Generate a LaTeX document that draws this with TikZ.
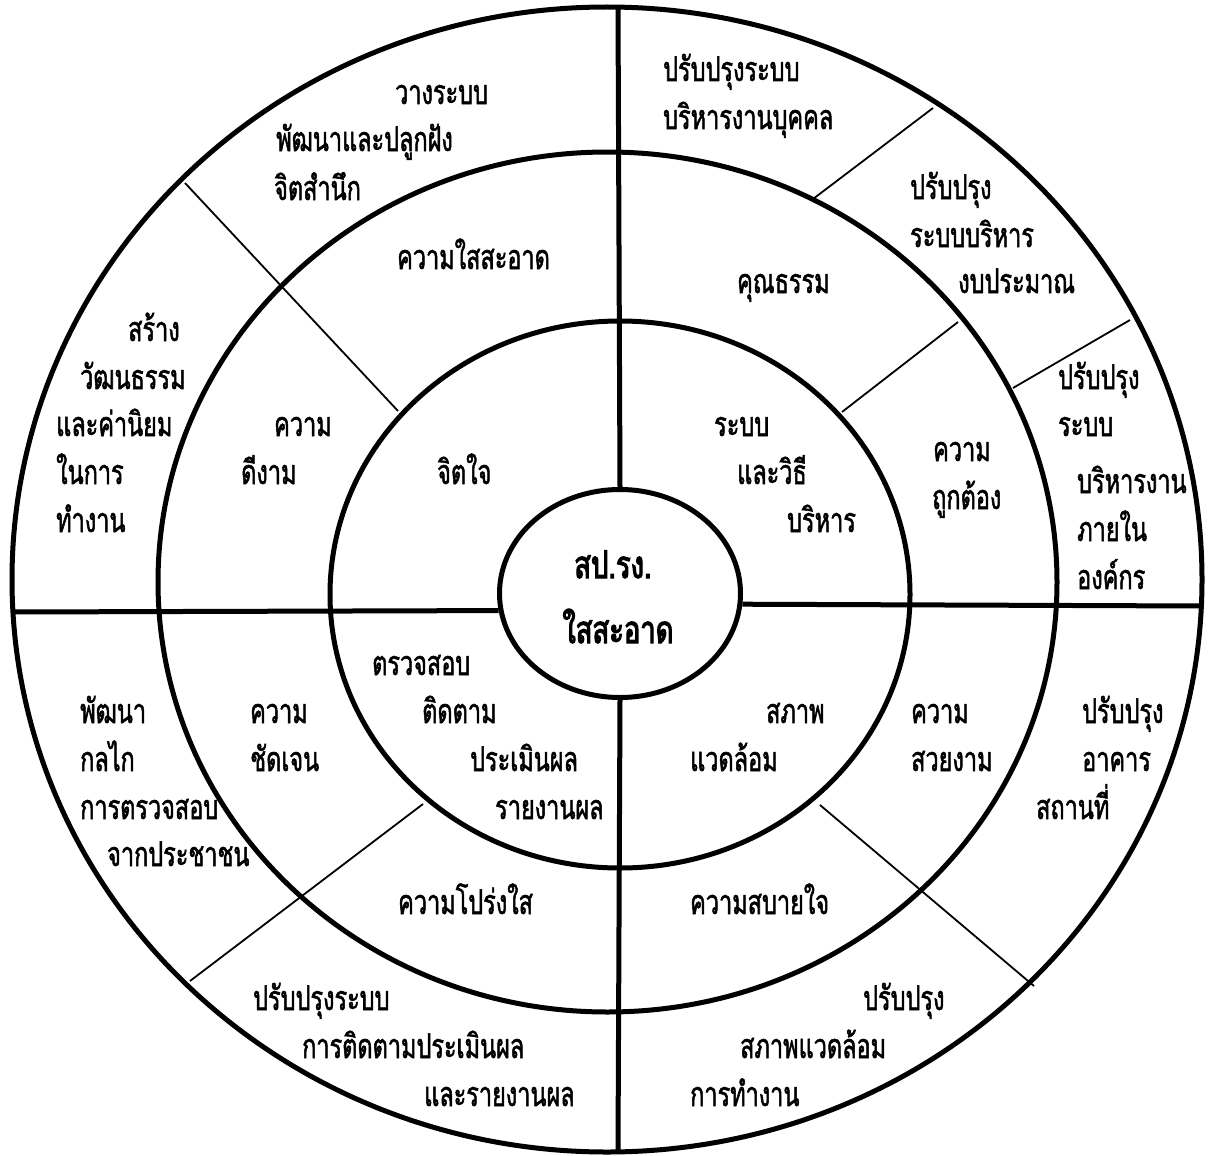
\documentclass[tikz,border=0pt]{standalone}
\usepackage{fontspec}
\newfontfamily\thai[Script=Thai,FakeStretch=0.69,FakeBold=1.5]{Loma}
\newfontfamily\thaihub[Script=Thai,FakeStretch=0.72,FakeBold=3]{Loma}
\usetikzlibrary{shapes.geometric}
\begin{document}
\begin{tikzpicture}[x=1pt,y=-1pt,
  ring/.style={line width=5pt},
  divider/.style={line width=5pt},
  thinline/.style={line width=1.8pt},
  lbl/.style={anchor=base west, inner sep=0pt, font=\thai\fontsize{34}{40}\selectfont},
  hublbl/.style={anchor=base, inner sep=0pt, font=\thaihub\fontsize{38}{44}\selectfont}]
\useasboundingbox (0,0) rectangle (1213,1156);
% rings
\draw[ring] (607,579.5) ellipse (595 and 572.5);
\draw[ring] (607.5,582) ellipse (449.5 and 430);
\draw[ring] (620,594.5) ellipse (290 and 273.5);
\node[draw, ellipse, line width=5pt, minimum width=241, minimum height=208, inner sep=0pt] (hub) at (620,593.5) {};
% free ends on the outer ring
\coordinate (otop) at (618,7);
\coordinate (obot) at (618,1151);
\coordinate (oleft) at (12,612);
\coordinate (oright) at (1202,606);
\draw[divider] (hub.north) -- (otop);
\draw[divider] (hub.south) -- (obot);
\draw[divider] (hub.188.7) -- (oleft);
\draw[divider] (hub.-5.9) -- (oright);
% thin dividers
\coordinate (ul1) at (185,183);  \coordinate (ul2) at (398,411);
\coordinate (ur1a) at (933,108); \coordinate (ur1b) at (813,199);
\coordinate (ur2a) at (958,322); \coordinate (ur2b) at (842,412);
\coordinate (ur3a) at (1130,320); \coordinate (ur3b) at (1013,388);
\coordinate (ll1) at (190,981);  \coordinate (ll2) at (423,804);
\coordinate (lr1) at (820,805);  \coordinate (lr2) at (1034,986);
\draw[thinline] (ul1) -- (ul2);
\draw[thinline] (ur1a) -- (ur1b);
\draw[thinline] (ur2a) -- (ur2b);
\draw[thinline] (ur3a) -- (ur3b);
\draw[thinline] (ll1) -- (ll2);
\draw[thinline] (lr1) -- (lr2);
% hub text
\node[hublbl] (h1) at (613,578) {สป.รง.};
\node[hublbl] (h2) at (618,643) {ใสสะอาด};
% top-left outer
\node[lbl] (a1) at (395,104) {วางระบบ};
\node[lbl] (a2) at (276,151) {พัฒนาและปลูกฝัง};
\node[lbl] (a3) at (274,200) {จิตสำนึก};
\node[lbl] (a4) at (397,269) {ความใสสะอาด};
% left outer
\node[lbl] (b1) at (128,341) {สร้าง};
\node[lbl] (b2) at (80,389) {วัฒนธรรม};
\node[lbl] (b3) at (56,436) {และค่านิยม};
\node[lbl] (b4) at (56,484) {ในการ};
\node[lbl] (b5) at (56,532) {ทำงาน};
\node[lbl] (b6) at (274,436) {ความ};
\node[lbl] (b7) at (241,484) {ดีงาม};
\node[lbl] (b8) at (437,484) {จิตใจ};
% upper right
\node[lbl] (c1) at (714,436) {ระบบ};
\node[lbl] (c2) at (737,484) {และวิธี};
\node[lbl] (c3) at (787,532) {บริหาร};
\node[lbl] (c4) at (737,293) {คุณธรรม};
\node[lbl] (c5) at (933,461) {ความ};
\node[lbl] (c6) at (932,509) {ถูกต้อง};
\node[lbl] (c7) at (663,81) {ปรับปรุงระบบ};
\node[lbl] (c8) at (663,129) {บริหารงานบุคคล};
\node[lbl] (c9) at (910,199) {ปรับปรุง};
\node[lbl] (c10) at (910,247) {ระบบบริหาร};
\node[lbl] (c11) at (958,293) {งบประมาณ};
\node[lbl] (c12) at (1058,389) {ปรับปรุง};
\node[lbl] (c13) at (1058,436) {ระบบ};
\node[lbl] (c14) at (1077,493) {บริหารงาน};
\node[lbl] (c15) at (1077,541) {ภายใน};
\node[lbl] (c16) at (1077,589) {องค์กร};
% lower left
\node[lbl] (d1) at (372,675) {ตรวจสอบ};
\node[lbl] (d2) at (422,723) {ติดตาม};
\node[lbl] (d3) at (470,771) {ประเมินผล};
\node[lbl] (d4) at (495,819) {รายงานผล};
\node[lbl] (d5) at (250,723) {ความ};
\node[lbl] (d6) at (250,771) {ชัดเจน};
\node[lbl] (d7) at (80,723) {พัฒนา};
\node[lbl] (d8) at (80,771) {กลไก};
\node[lbl] (d9) at (80,819) {การตรวจสอบ};
\node[lbl] (d10) at (107,866) {จากประชาชน};
\node[lbl] (d11) at (398,914) {ความโปร่งใส};
\node[lbl] (d12) at (253,1010) {ปรับปรุงระบบ};
\node[lbl] (d13) at (302,1058) {การติดตามประเมินผล};
\node[lbl] (d14) at (424,1106) {และรายงานผล};
% lower right
\node[lbl] (e1) at (766,723) {สภาพ};
\node[lbl] (e2) at (690,771) {แวดล้อม};
\node[lbl] (e3) at (911,723) {ความ};
\node[lbl] (e4) at (911,771) {สวยงาม};
\node[lbl] (e5) at (1082,723) {ปรับปรุง};
\node[lbl] (e6) at (1082,771) {อาคาร};
\node[lbl] (e7) at (1036,819) {สถานที่};
\node[lbl] (e8) at (690,914) {ความสบายใจ};
\node[lbl] (e9) at (863,1010) {ปรับปรุง};
\node[lbl] (e10) at (740,1058) {สภาพแวดล้อม};
\node[lbl] (e11) at (690,1106) {การทำงาน};
\end{tikzpicture}
\end{document}
